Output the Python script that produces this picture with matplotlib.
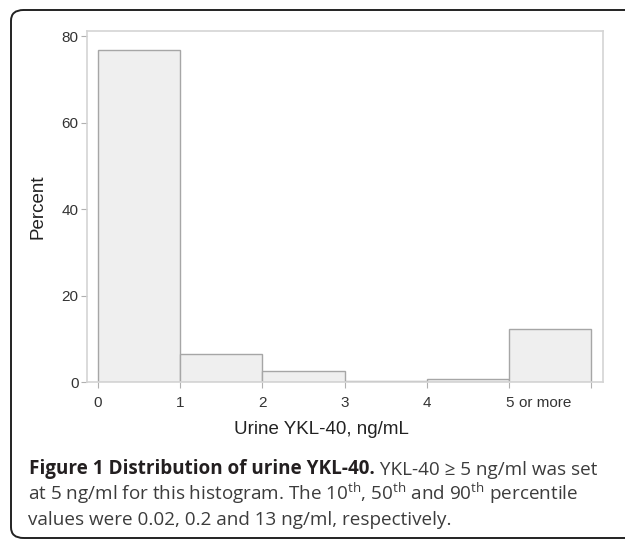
#!/usr/bin/env python3
import numpy as np
import matplotlib
matplotlib.use("Agg")
import matplotlib.pyplot as plt
from matplotlib.patches import FancyBboxPatch

# histogram bins (ng/mL) and percent of subjects per bin
bin_left = [0, 1, 2, 3, 4, 5]
percent = [76.9, 6.5, 2.5, 0.3, 0.7, 12.3]
x_ticks = [0, 1, 2, 3, 4, 5, 6]
x_ticklabels = ["0", "1", "2", "3", "4", "5", ""]
y_ticks = [0, 20, 40, 60, 80]

cap_bold = "Figure 1 Distribution of urine YKL-40."
cap_line1 = " YKL-40 \u2265 5 ng/ml was set"
cap_line2 = (r"at 5 ng/ml for this histogram. The 10$^{\mathrm{th}}$, "
             r"50$^{\mathrm{th}}$ and 90$^{\mathrm{th}}$ percentile")
cap_line3 = "values were 0.02, 0.2 and 13 ng/ml, respectively."

plt.rcParams["font.family"] = ["Liberation Sans", "DejaVu Sans"]
plt.rcParams["mathtext.fontset"] = "custom"
plt.rcParams["mathtext.rm"] = "Open Sans"

fig = plt.figure(figsize=(6.25, 5.4), dpi=100)
W, H = 625, 540

# rounded frame round the figure panel
box = FancyBboxPatch((11 / W, 1 - 538 / H), (660 - 11) / W, (538 - 10) / H,
                     boxstyle="round,pad=0,rounding_size=0.02",
                     transform=fig.transFigure, fill=False,
                     edgecolor="#222222", lw=1.4, clip_on=False)
fig.patches.append(box)

ax = fig.add_axes([87 / W, 1 - 382 / H, (603 - 87) / W, (382 - 31) / H])
ax.bar(bin_left, percent, width=1, align="edge",
       color="#efefef", edgecolor="#a6a6a6", linewidth=1.0)

ax.set_xlim(-0.13, 6.14)
ax.set_ylim(0, 81.2)
ax.set_xticks(x_ticks)
ax.set_xticklabels(x_ticklabels)
ax.set_yticks(y_ticks)

for s in ax.spines.values():
    s.set_color("#d4d4d4")
    s.set_linewidth(1.2)

ax.tick_params(axis="both", colors="#b0b0b0", labelcolor="#333333",
               labelsize=11, length=4, width=0.8)
ax.tick_params(axis="y", pad=2)
ax.tick_params(axis="x", pad=6)

ax.annotate("or more", xy=(5, 0), xycoords=("data", "axes fraction"),
            xytext=(7, -10), textcoords="offset points",
            ha="left", va="top", fontsize=11, color="#333333")

ax.set_xlabel("Urine YKL-40, ng/mL", fontsize=13.5, color="#222222")
ax.xaxis.set_label_coords(0.455, -0.112)
ax.set_ylabel("Percent", fontsize=13.5, color="#222222")
ax.yaxis.set_label_coords(-0.078, 0.5)

# caption under the chart
cap_font = ["Open Sans", "DejaVu Sans"]
fs = 13.6
t1 = fig.text(29 / W, 1 - 474 / H, cap_bold, fontsize=fs, family=cap_font,
              weight="bold", color="#231f20")
ax.annotate(cap_line1, xy=(1, 0), xycoords=t1, va="bottom", ha="left",
            fontsize=fs, family=cap_font, color="#3c3c3c")
fig.text(28 / W, 1 - 500 / H, cap_line2, fontsize=fs, family=cap_font,
         color="#3c3c3c")
fig.text(28 / W, 1 - 525 / H, cap_line3, fontsize=fs, family=cap_font,
         color="#3c3c3c")

fig.savefig("out.png", dpi=100)
